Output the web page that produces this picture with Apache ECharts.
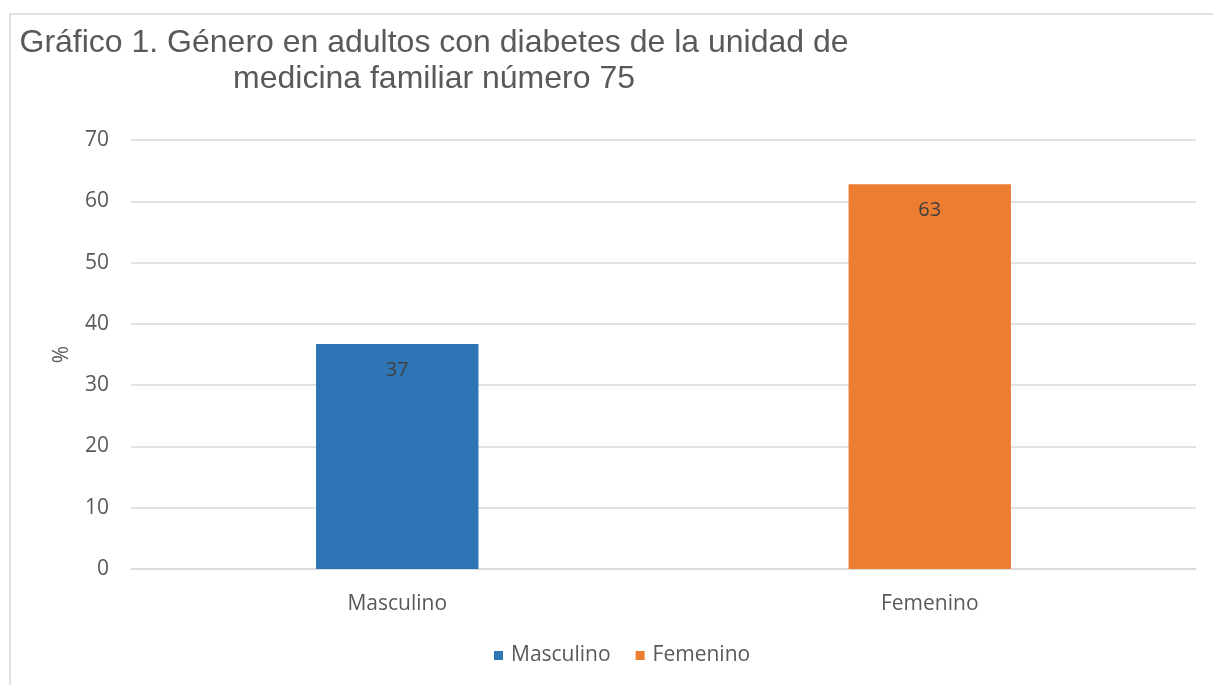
<!DOCTYPE html>
<html>
<head>
<meta charset="utf-8">
<title>Gráfico 1</title>
<script src="https://cdn.jsdelivr.net/npm/echarts@6/dist/echarts.min.js"></script>
<style>
  html, body { margin: 0; padding: 0; background: #fff; }
  #chart { width: 1213px; height: 685px; }
</style>
</head>
<body>
<div id="chart"></div>
<script>
// datos
const categories = ['Masculino', 'Femenino']
const seriesNames = ['Masculino', 'Femenino']
const values = [36.7, 62.8]
const colors = ['#2E75B6', '#ED7D31']
const yTicks = { min: 0, max: 70, interval: 10 }

const chart = echarts.init(document.getElementById('chart'))

// una serie por categoría para que la leyenda muestre las dos
const series = seriesNames.map((name, i) => ({
    name: name,
    type: 'bar',
    stack: 'total',
    barWidth: '30.5%',
    itemStyle: { color: colors[i] },
    label: {
        show: true,
        position: 'insideTop',
        distance: 16,
        color: '#404040',
        fontFamily: 'Open Sans',
        fontSize: 20,
        formatter: (p) => Math.round(p.value)
    },
    data: categories.map((c, j) => (j === i ? values[i] : '-'))
}))

const option = {
    animation: false,
    backgroundColor: '#fff',
    title: {
        text: 'Gráfico 1. Género en adultos con diabetes de la unidad de\nmedicina familiar número 75',
        left: 434,
        top: 25,
        padding: 0,
        textAlign: 'center',
        textStyle: {
            fontFamily: 'Liberation Sans',
            fontSize: 32,
            fontWeight: 'normal',
            color: '#595959',
            lineHeight: 36
        }
    },
    graphic: [{
        type: 'rect',
        shape: { x: 10, y: 14, width: 1400, height: 900 },
        style: { fill: 'none', stroke: '#d9d9d9', lineWidth: 1.5 },
        silent: true
    }],
    legend: {
        bottom: 14,
        left: 489,
        icon: 'rect',
        itemWidth: 9,
        itemHeight: 9,
        itemGap: 25,
        textStyle: { fontFamily: 'Open Sans', fontSize: 21, color: '#595959', padding: [0, 0, 0, 3] },
        data: seriesNames
    },
    grid: { left: 131, right: 17, top: 140, bottom: 116, containLabel: false },
    xAxis: {
        type: 'category',
        data: categories,
        axisLine: { lineStyle: { color: '#d9d9d9', width: 1.5 } },
        axisTick: { show: false },
        axisLabel: { margin: 25, fontFamily: 'Open Sans', fontSize: 21, color: '#595959' }
    },
    yAxis: {
        type: 'value',
        min: yTicks.min,
        max: yTicks.max,
        interval: yTicks.interval,
        name: '%',
        nameLocation: 'middle',
        nameGap: 58,
        nameRotate: 90,
        nameTextStyle: { fontFamily: 'Open Sans', fontSize: 21, color: '#595959' },
        axisLine: { show: false },
        axisTick: { show: false },
        axisLabel: { margin: 22, fontFamily: 'Open Sans', fontSize: 21, color: '#595959' },
        splitLine: { lineStyle: { color: '#d9d9d9', width: 1.5 } }
    },
    series: series
}

chart.setOption(option)
</script>
</body>
</html>
